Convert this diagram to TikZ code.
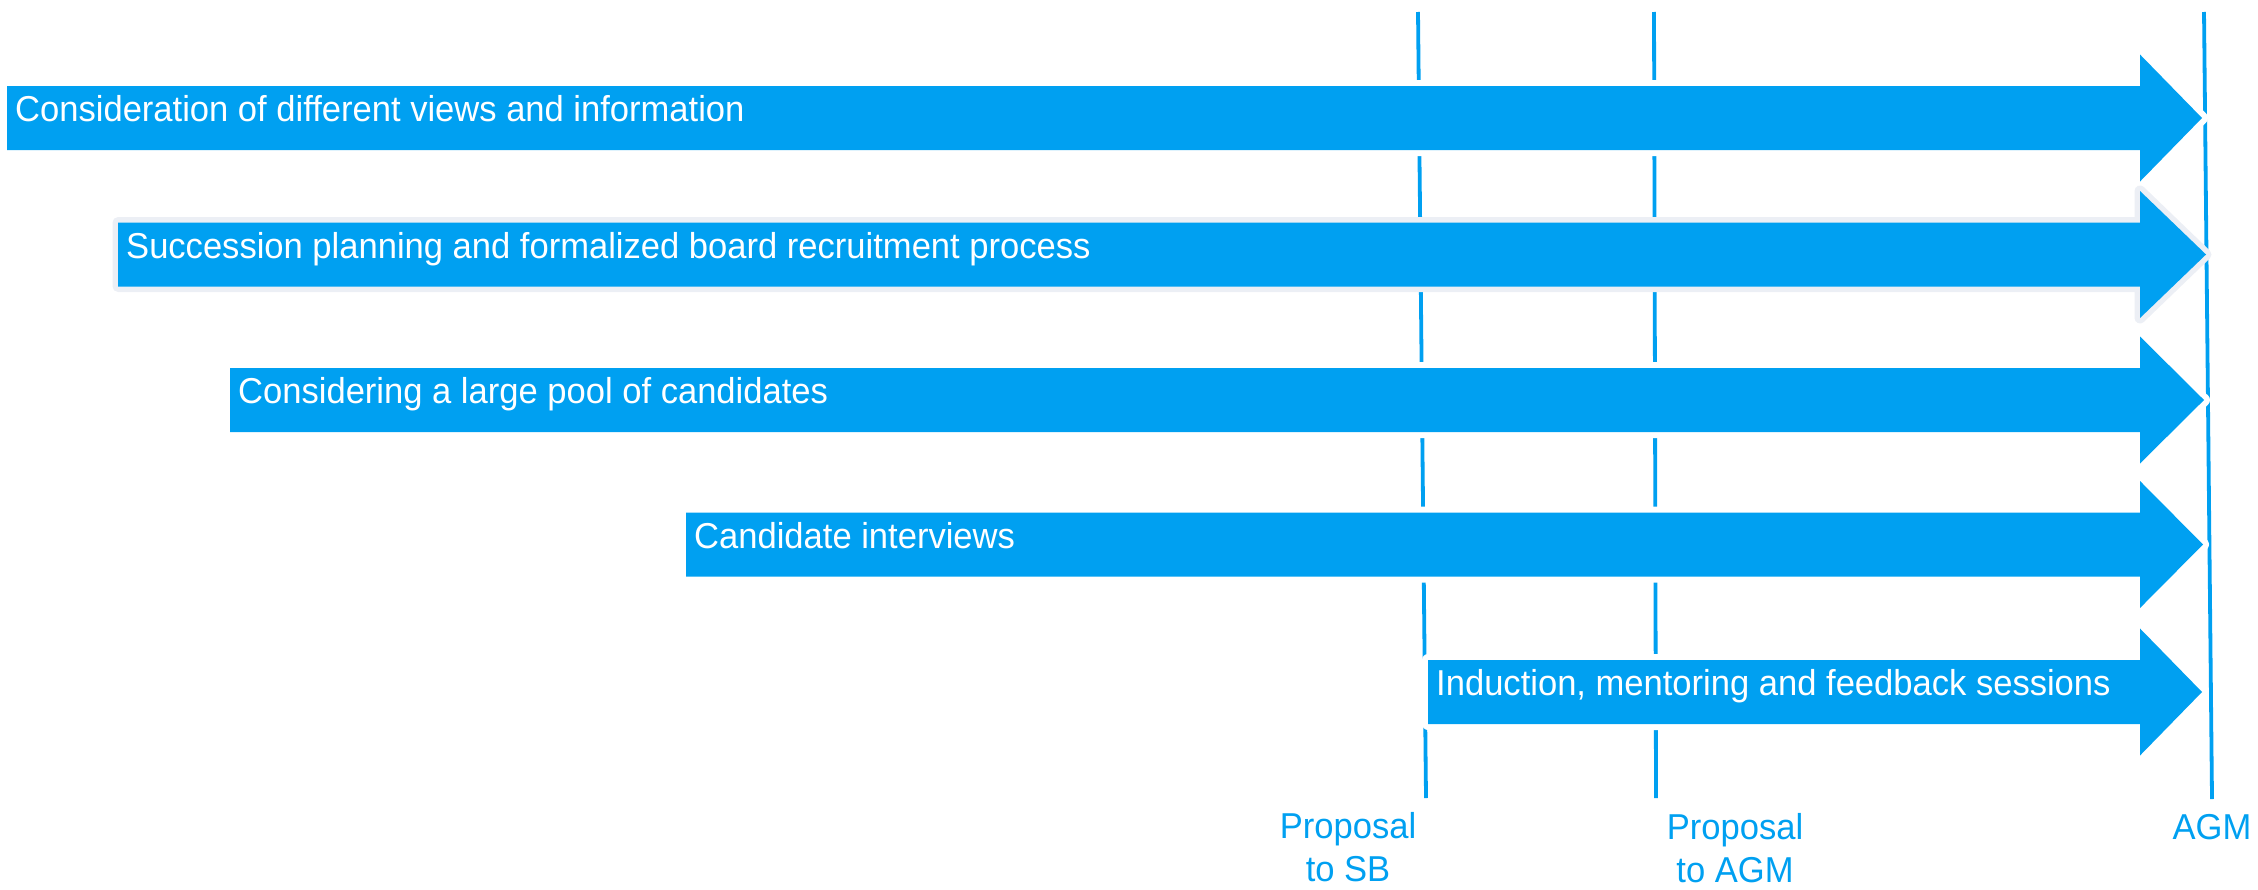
\documentclass[tikz,border=0pt]{standalone}
\usepackage{fontspec}
\newfontfamily\dinfont[FakeStretch=0.96]{Liberation Sans}
\definecolor{barblue}{RGB}{0,160,241}
\definecolor{shadowgray}{RGB}{236,239,245}
\tikzset{
  vline/.style={draw=barblue, line width=3.8pt},
  barfill/.style={fill=barblue},
  whiteedge/.style={preaction={draw=white, line width=12pt, line join=round}},
  grayedge/.style={preaction={draw=shadowgray, line width=11pt, line join=round}},
  barlabel/.style={inner sep=0pt, anchor=base west, text=white, font=\dinfont\fontsize{36}{44}\selectfont},
  ticklabel/.style={inner sep=0pt, align=center, text=barblue, font=\dinfont\fontsize{36}{43}\selectfont},
}
\newcommand{\barrow}[6]{% name, edge style, left, center y, tip x, text
  \fill[barfill, #2] (#3,#4-32) -- (2140,#4-32) -- (2140,#4-63.5) -- (#5,#4)
     -- (2140,#4+63.5) -- (2140,#4+32) -- (#3,#4+32) -- cycle;
  \node[barlabel] (#1) at (#3+8,#4+3.5) {#6};
}
\begin{document}
\begin{tikzpicture}[x=1pt, y=-1pt]
\useasboundingbox (0,0) rectangle (2258,889);
% time markers
\coordinate (sbtop) at (1418,12);
\coordinate (sbbot) at (1426,798);
\coordinate (agmptop) at (1654,12);
\coordinate (agmpbot) at (1656,798);
\coordinate (agmtop) at (2204,12);
\coordinate (agmbot) at (2212,799);
\draw[vline] (sbtop) -- (sbbot);
\draw[vline] (agmptop) -- (agmpbot);
\draw[vline] (agmtop) -- (agmbot);
% bars
\barrow{b1}{whiteedge}{7}{118}{2202}{Consideration of different views and information}
\barrow{b2}{grayedge}{118}{254.5}{2206}{Succession planning and formalized board recruitment process}
\barrow{b3}{whiteedge}{230}{400}{2204}{Considering a large pool of candidates}
\barrow{b4}{whiteedge}{686}{544.5}{2203}{Candidate interviews}
\barrow{b5}{whiteedge}{1428}{692}{2202}{Induction, mentoring and feedback sessions}
% labels
\node[ticklabel, anchor=base] (sb) at (1348,881) {Proposal\\to SB};
\node[ticklabel, anchor=base] (agmp) at (1735,882) {Proposal\\to AGM};
\node[ticklabel, anchor=base] (agm) at (2212,839) {AGM};
\end{tikzpicture}
\end{document}
